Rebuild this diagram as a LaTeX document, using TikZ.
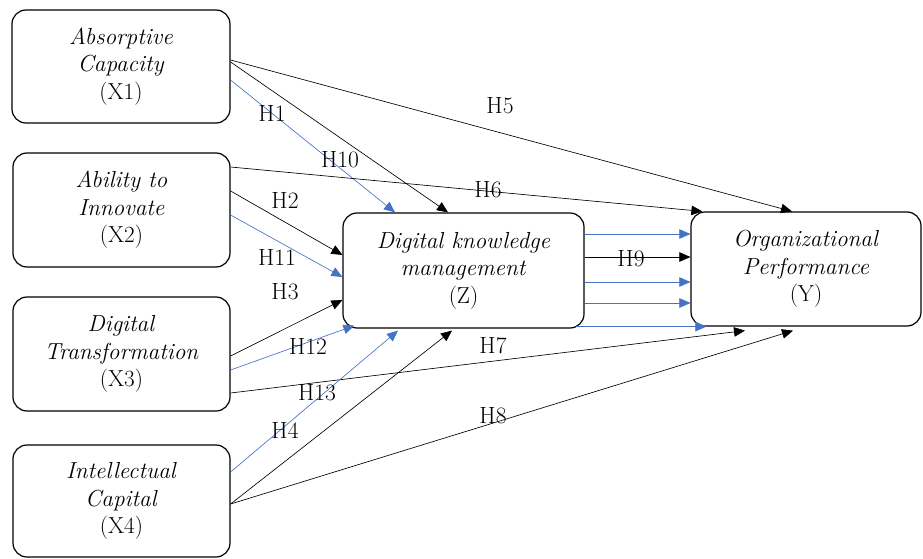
\documentclass[tikz,border=0pt]{standalone}
\usetikzlibrary{arrows.meta}

\definecolor{hblue}{HTML}{4472C4}

\begin{document}
\begin{tikzpicture}[x=1pt,y=-1pt,
  var/.style={draw, line width=1.2pt, rounded corners=14pt, align=center,
    inner sep=0pt, font=\fontsize{23.2}{27.5}\selectfont},
  link/.style={line width=0.65pt, -{Triangle[length=11pt,width=9.5pt]}},
  blink/.style={link, hblue},
  hyp/.style={font=\fontsize{23.5}{26}\selectfont}]
  \useasboundingbox (0,0) rectangle (923,559);

  % variables
  \node[var, minimum width=218, minimum height=113] (x1) at (121,66.5)
    {\textit{Absorptive}\\\textit{Capacity}\\(X1)};
  \node[var, minimum width=217, minimum height=114] (x2) at (121.5,210)
    {\textit{Ability to}\\\textit{Innovate}\\(X2)};
  \node[var, minimum width=217, minimum height=114] (x3) at (121.5,354)
    {\textit{Digital}\\\textit{Transformation}\\(X3)};
  \node[var, minimum width=217, minimum height=112] (x4) at (121.5,501)
    {\textit{Intellectual}\\\textit{Capital}\\(X4)};
  \node[var, minimum width=241, minimum height=115] (z) at (463.5,270.5)
    {\textit{Digital knowledge}\\\textit{management}\\(Z)};
  \node[var, minimum width=230, minimum height=114] (y) at (806,269)
    {\textit{Organizational}\\\textit{Performance}\\(Y)};

  % paths from X1
  \draw[link] ([yshift=6.5]x1.east) -- ([xshift=-14]y.north);
  \draw[link] ([yshift=4.5]x1.east) -- ([xshift=-15.5]z.north);
  \draw[blink] ([yshift=-13.5]x1.east) -- ([xshift=-68.5]z.north);

  % paths from X2
  \draw[link] ([yshift=43]x2.east) -- ([xshift=12]y.north west);
  \draw[link] ([yshift=19]x2.east) -- ([yshift=15.5]z.west);
  \draw[blink] ([yshift=-5]x2.east) -- ([yshift=-6.5]z.west);

  % paths from X3
  \draw[link] ([yshift=-2]x3.east) -- ([yshift=-29.5]z.west);
  \draw[blink] ([yshift=-16]x3.east) -- ([xshift=12,yshift=3]z.south west);
  \draw[link] ([yshift=-39]x3.east) -- ([xshift=-61,yshift=-4]y.south);

  % paths from X4
  \draw[blink] ([yshift=29]x4.east) -- ([xshift=-65.5,yshift=-2]z.south);
  \draw[link] ([yshift=-3]x4.east) -- ([xshift=-11.5,yshift=-2]z.south);
  \draw[link] ([yshift=-3]x4.east) -- ([xshift=-13,yshift=-4]y.south);

  % Z to Y
  \draw[blink] ([yshift=36.5]z.east) -- ([yshift=36.5]z.east -| y.west);
  \draw[link] ([yshift=13.5]z.east) -- ([yshift=13.5]z.east -| y.west);
  \draw[blink] ([yshift=-11.5]z.east) -- ([yshift=-11.5]z.east -| y.west);
  \draw[blink] ([yshift=-32.5]z.east) -- ([yshift=-32.5]z.east -| y.west);
  \draw[blink] ([xshift=-9,yshift=2]z.south east) -- ([xshift=16,yshift=2]z.south east -| y.west);

  % hypotheses
  \node[hyp] (h1) at (272,113) {H1};
  \node[hyp] (h10) at (340,160) {H10};
  \node[hyp] (h5) at (500,106) {H5};
  \node[hyp] (h6) at (488,190) {H6};
  \node[hyp] (h2) at (285,200) {H2};
  \node[hyp] (h11) at (277,257) {H11};
  \node[hyp] (h3) at (285,292) {H3};
  \node[hyp] (h9) at (631,259) {H9};
  \node[hyp] (h12) at (308,346) {H12};
  \node[hyp] (h7) at (493,346) {H7};
  \node[hyp] (h13) at (317,393) {H13};
  \node[hyp] (h4) at (285,430) {H4};
  \node[hyp] (h8) at (493,416) {H8};
\end{tikzpicture}
\end{document}
